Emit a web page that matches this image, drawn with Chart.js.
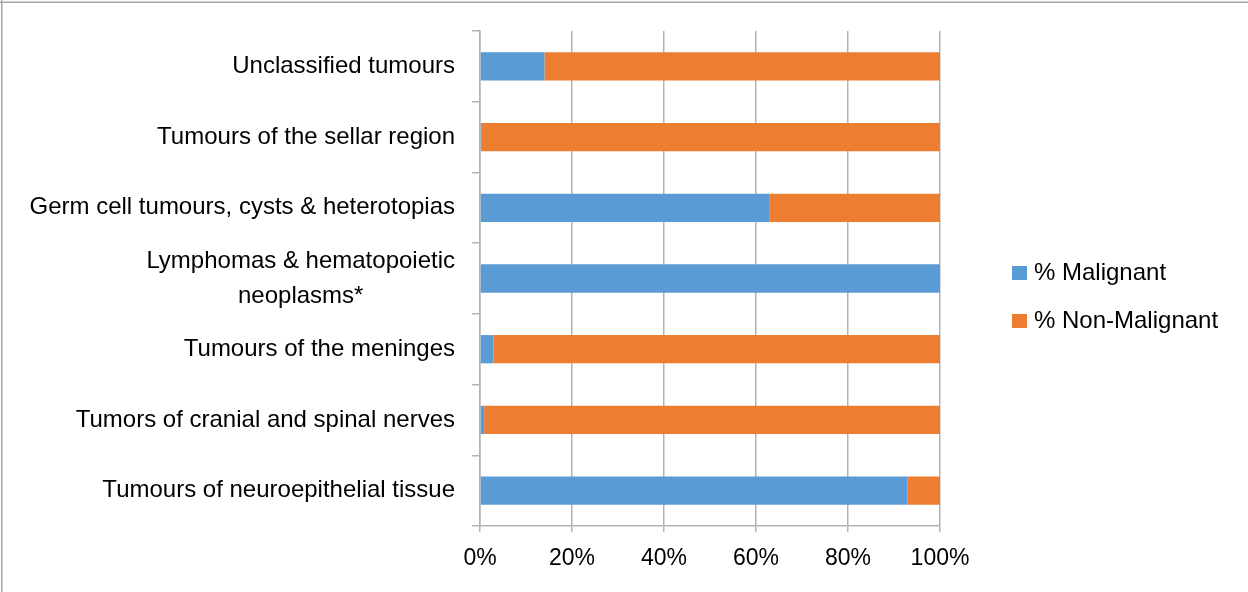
<!DOCTYPE html>
<html>
<head>
<meta charset="utf-8">
<script src="https://cdn.jsdelivr.net/npm/chart.js@4/dist/chart.umd.min.js"></script>
<style>
  html, body { margin: 0; padding: 0; background: #fff; }
  #wrap { width: 1248px; height: 592px; position: relative; }
</style>
</head>
<body>
<div id="wrap"><canvas id="chart" width="1248" height="592"></canvas></div>
<script>
// data (percent of each tumour group)
const categories = [
  'Unclassified tumours',
  'Tumours of the sellar region',
  'Germ cell tumours, cysts & heterotopias',
  ['Lymphomas & hematopoietic', 'neoplasms*'],
  'Tumours of the meninges',
  'Tumors of cranial and spinal nerves',
  'Tumours of neuroepithelial tissue'
];
const malignant    = [14.0, 0.4, 63.0, 100, 2.9, 0.9, 92.9];
const nonMalignant = [86.0, 99.6, 37.0, 0, 97.1, 99.1, 7.1];
const xTicks = [0, 20, 40, 60, 80, 100];

const FONT = '"Liberation Sans", Arial, sans-serif';
const FSIZE = 24;
const TICKSIZE = 23;
const GRID = '#b3b3b3';

// y labels: right-aligned block, lines centred inside it (like Excel)
const yLabels = {
  id: 'yLabels',
  afterDraw(chart) {
    const ctx = chart.ctx, ys = chart.scales.y;
    ctx.save();
    ctx.font = FSIZE + 'px ' + FONT;
    ctx.fillStyle = '#000';
    ctx.textAlign = 'center';
    ctx.textBaseline = 'middle';
    const right = chart.chartArea.left - 25, lh = 35;
    categories.forEach((lab, i) => {
      const lines = Array.isArray(lab) ? lab : [lab];
      const w = Math.max(...lines.map(l => ctx.measureText(l).width));
      const cx = right - w / 2;
      const y0 = ys.getPixelForTick(i) - (lines.length - 1) * lh / 2;
      lines.forEach((l, k) => ctx.fillText(l, cx, y0 + k * lh));
    });
    ctx.restore();
  }
};

// legend on the right + frame lines of the chart object
const sideLegend = {
  id: 'sideLegend',
  afterDraw(chart) {
    const ctx = chart.ctx;
    ctx.save();
    ctx.fillStyle = '#a6a6a6';
    ctx.fillRect(1, 0, 1.5, 592);
    ctx.fillRect(0, 1.5, 1248, 1.5);
    ctx.font = FSIZE + 'px ' + FONT;
    ctx.textBaseline = 'middle';
    ctx.textAlign = 'left';
    const ys = [273, 321];
    chart.data.datasets.forEach((ds, i) => {
      ctx.fillStyle = ds.backgroundColor;
      ctx.fillRect(1012, ys[i] - 7, 15, 14);
      ctx.fillStyle = '#000';
      ctx.fillText(ds.label, 1034, ys[i]);
    });
    ctx.restore();
  }
};

new Chart(document.getElementById('chart'), {
  type: 'bar',
  data: {
    labels: categories,
    datasets: [
      { label: '% Malignant', data: malignant, backgroundColor: '#5b9bd5' },
      { label: '% Non-Malignant', data: nonMalignant, backgroundColor: '#ed7d31' }
    ]
  },
  options: {
    indexAxis: 'y',
    responsive: false,
    animation: false,
    layout: { padding: { top: 31, right: 308, left: 0, bottom: 0 } },
    datasets: { bar: { categoryPercentage: 1, barPercentage: 0.4 } },
    plugins: { legend: { display: false }, tooltip: { enabled: false } },
    scales: {
      x: {
        stacked: true,
        min: 0, max: 100,
        afterBuildTicks: s => { s.ticks = xTicks.map(v => ({ value: v })); },
        afterFit: s => { s.height = 66; },
        grid: { color: GRID, lineWidth: 1.5, tickLength: 6 },
        border: { color: GRID, width: 1.5 },
        ticks: {
          padding: 13,
          color: '#000',
          font: { family: FONT, size: TICKSIZE },
          callback: v => v + '%'
        }
      },
      y: {
        stacked: true,
        afterFit: s => { s.width = 480; },
        grid: { offset: true, drawOnChartArea: false, color: GRID, lineWidth: 1.5, tickLength: 8 },
        border: { color: GRID, width: 1.5 },
        ticks: { display: false }
      }
    }
  },
  plugins: [yLabels, sideLegend]
});
</script>
</body>
</html>
